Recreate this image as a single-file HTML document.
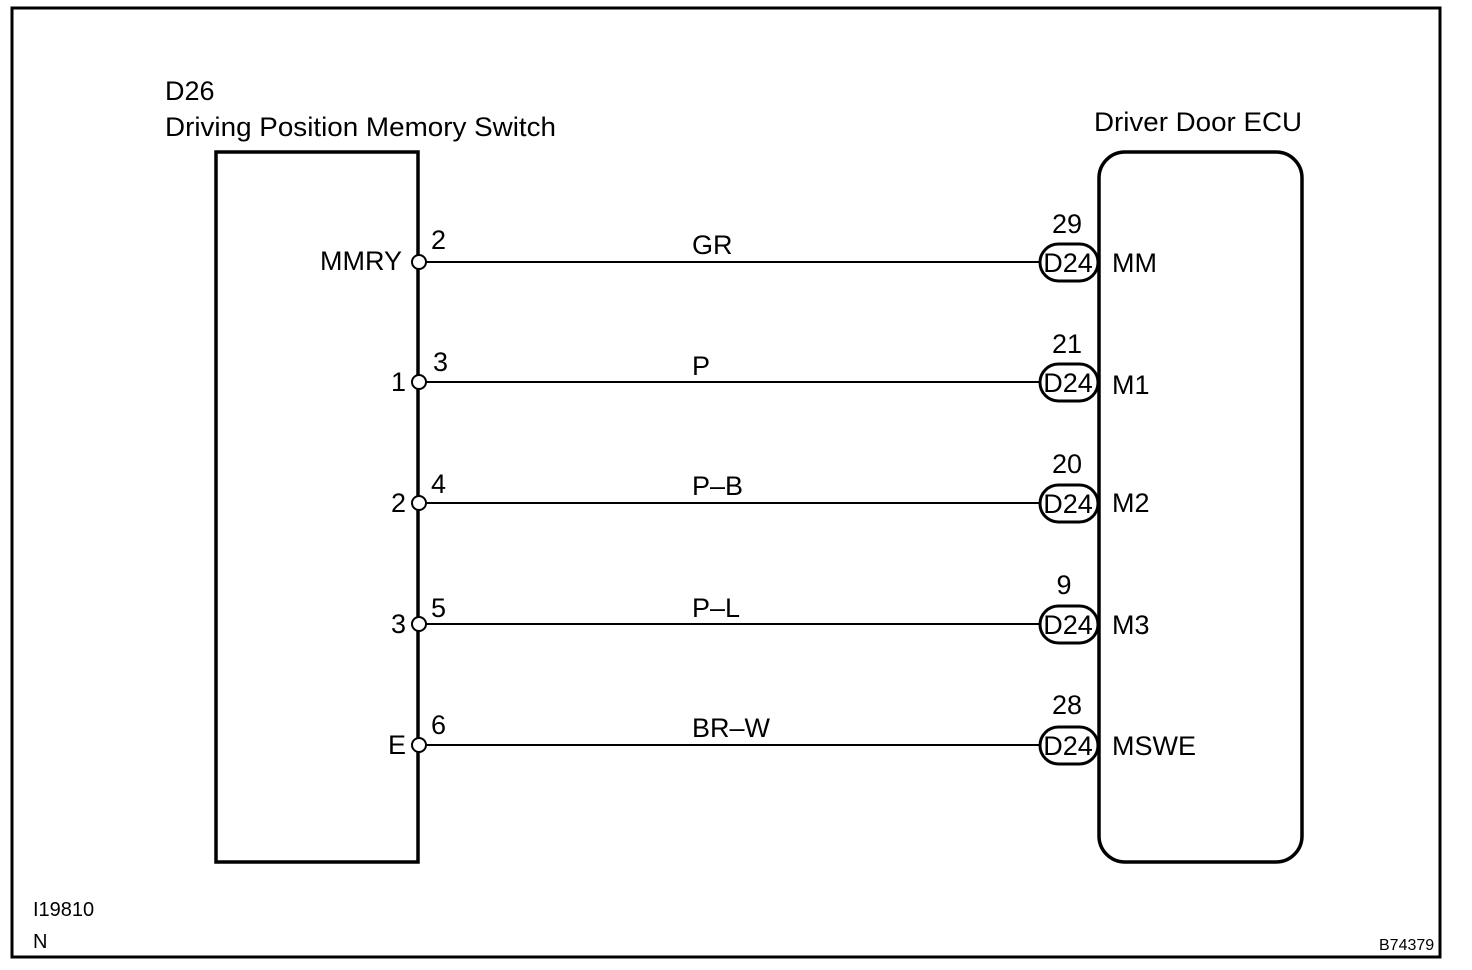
<!DOCTYPE html>
<html><head><meta charset="utf-8"><style>
html,body{margin:0;padding:0;background:#fff;}
svg{display:block;}
text{font-family:"Liberation Sans",Arial,sans-serif;fill:#000;}
</style></head><body>
<svg width="1472" height="970" viewBox="0 0 1472 970" xmlns="http://www.w3.org/2000/svg">
<rect x="12" y="8" width="1428" height="949" fill="none" stroke="#000" stroke-width="3"/>
<text x="165" y="100" font-size="27">D26</text>
<text x="165" y="136" font-size="27" textLength="391" lengthAdjust="spacingAndGlyphs">Driving Position Memory Switch</text>
<text x="1094" y="131" font-size="27" textLength="208" lengthAdjust="spacingAndGlyphs">Driver Door ECU</text>
<rect x="216" y="152" width="202" height="710" fill="none" stroke="#000" stroke-width="3.5"/>
<rect x="1099" y="152" width="203" height="710" rx="26" ry="26" fill="none" stroke="#000" stroke-width="3.5"/>
<g stroke="#000" stroke-width="2" fill="none">
<line x1="425" y1="262" x2="1040" y2="262"/>
<line x1="425" y1="382" x2="1040" y2="382"/>
<line x1="425" y1="503" x2="1040" y2="503"/>
<line x1="425" y1="624" x2="1040" y2="624"/>
<line x1="425" y1="745" x2="1040" y2="745"/>
</g>
<g stroke="#000" stroke-width="2" fill="#fff">
<circle cx="419" cy="262" r="7"/>
<circle cx="419" cy="382" r="7"/>
<circle cx="419" cy="503" r="7"/>
<circle cx="419" cy="624" r="7"/>
<circle cx="419" cy="745" r="7"/>
</g>
<g stroke="#000" stroke-width="3" fill="#fff">
<rect x="1040" y="244" width="58" height="37" rx="18.5"/>
<rect x="1040" y="364" width="58" height="37" rx="18.5"/>
<rect x="1040" y="485" width="58" height="37" rx="18.5"/>
<rect x="1040" y="606" width="58" height="37" rx="18.5"/>
<rect x="1040" y="727" width="58" height="37" rx="18.5"/>
</g>
<g font-size="27">
<text x="402" y="270" text-anchor="end">MMRY</text>
<text x="406" y="391" text-anchor="end">1</text>
<text x="406" y="512" text-anchor="end">2</text>
<text x="406" y="633" text-anchor="end">3</text>
<text x="406" y="754" text-anchor="end">E</text>
<text x="431" y="249">2</text>
<text x="433" y="371">3</text>
<text x="431" y="493">4</text>
<text x="431" y="617">5</text>
<text x="431" y="734">6</text>
<text x="692" y="254">GR</text>
<text x="692" y="375">P</text>
<text x="692" y="495">P–B</text>
<text x="692" y="617">P–L</text>
<text x="692" y="737">BR–W</text>
<text x="1067" y="233" text-anchor="middle">29</text>
<text x="1067" y="353" text-anchor="middle">21</text>
<text x="1067" y="473" text-anchor="middle">20</text>
<text x="1064" y="594" text-anchor="middle">9</text>
<text x="1067" y="714" text-anchor="middle">28</text>
<text x="1068" y="272" text-anchor="middle">D24</text>
<text x="1068" y="392" text-anchor="middle">D24</text>
<text x="1068" y="513" text-anchor="middle">D24</text>
<text x="1068" y="634" text-anchor="middle">D24</text>
<text x="1068" y="755" text-anchor="middle">D24</text>
<text x="1112" y="272">MM</text>
<text x="1112" y="394">M1</text>
<text x="1112" y="512">M2</text>
<text x="1112" y="634">M3</text>
<text x="1112" y="755">MSWE</text>
</g>
<text x="33" y="916" font-size="20">I19810</text>
<text x="33" y="948" font-size="20">N</text>
<text x="1379" y="950" font-size="16">B74379</text>
</svg>
</body></html>
